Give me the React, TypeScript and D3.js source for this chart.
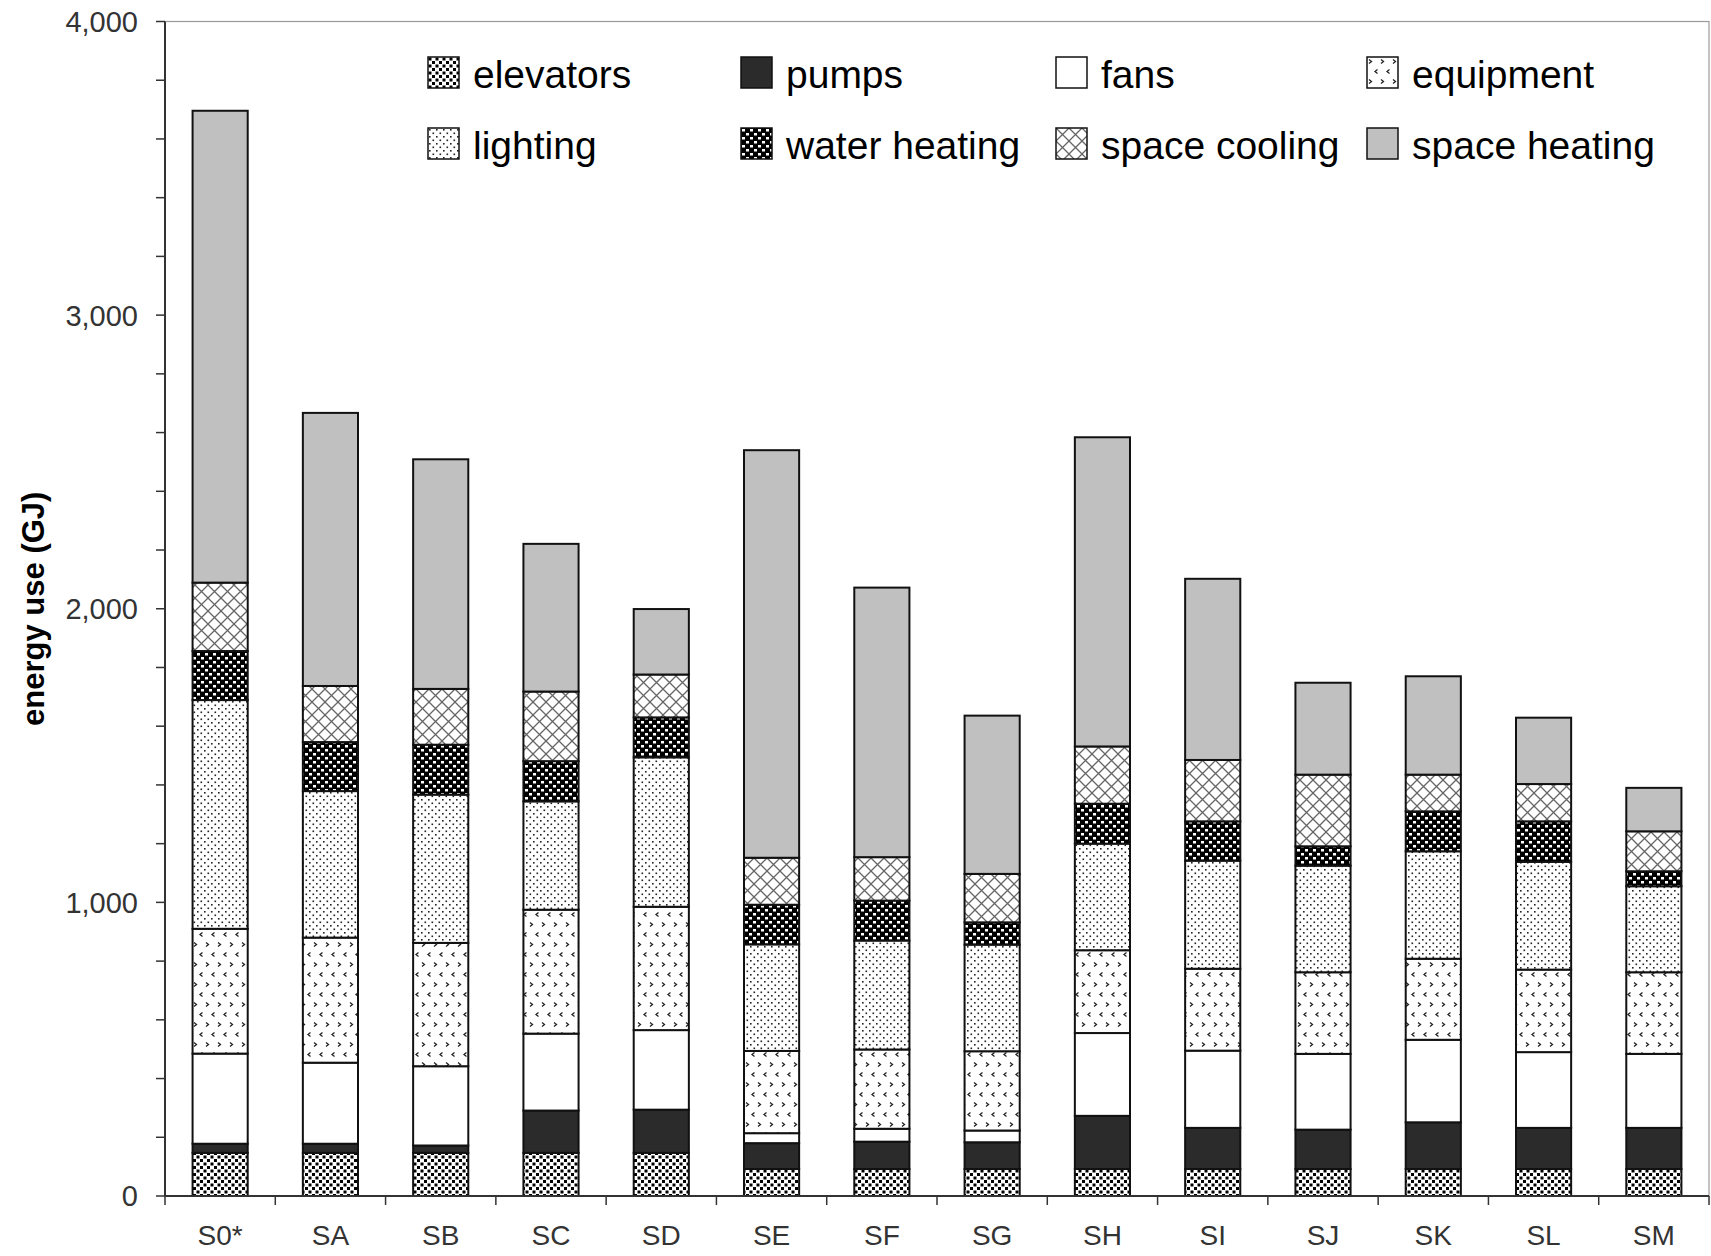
import React from "react";
import * as d3 from "d3";

const categories = ["S0*", "SA", "SB", "SC", "SD", "SE", "SF", "SG", "SH", "SI", "SJ", "SK", "SL", "SM"];
const elevators = [147, 147, 147, 147, 147, 92, 92, 92, 92, 92, 92, 92, 92, 92];
const pumps = [31, 31, 25, 144, 147, 88, 93, 91, 181, 140, 134, 159, 140, 140];
const fans = [307, 276, 270, 262, 271, 34, 44, 40, 282, 263, 258, 281, 258, 252];
const equipment = [425, 426, 420, 422, 420, 280, 270, 270, 282, 279, 278, 276, 281, 278];
const lighting = [779, 499, 505, 369, 509, 363, 371, 363, 363, 368, 363, 366, 367, 293];
const waterHeating = [167, 167, 170, 137, 136, 135, 136, 76, 136, 134, 66, 136, 138, 51];
const spaceCooling = [233, 191, 190, 237, 146, 160, 148, 165, 195, 209, 244, 125, 127, 136];
const spaceHeating = [1607, 930, 782, 503, 223, 1388, 918, 539, 1053, 617, 313, 335, 226, 148];
const yTicks = [0, 1000, 2000, 3000, 4000];

const seriesKeys = ["elevators", "pumps", "fans", "equipment", "lighting", "water heating", "space cooling", "space heating"];
const seriesValues = [elevators, pumps, fans, equipment, lighting, waterHeating, spaceCooling, spaceHeating];
const fills: Record<string, string> = {
  elevators: "url(#pElev)",
  pumps: "#2b2b2b",
  fans: "#ffffff",
  equipment: "url(#pEquip)",
  lighting: "url(#pLight)",
  "water heating": "url(#pWater)",
  "space cooling": "url(#pCool)",
  "space heating": "#c0c0c0",
};
const legendOrder = [
  ["elevators", "pumps", "fans", "equipment"],
  ["lighting", "water heating", "space cooling", "space heating"],
];

const W = 1711, H = 1256;
const left = 165, right = 1709, top = 21.5, bottom = 1196;
const font = '"Liberation Sans", Arial, sans-serif';

export default function App() {
  const rows = categories.map((c, i) => {
    const r: Record<string, any> = { cat: c };
    seriesKeys.forEach((k, j) => (r[k] = seriesValues[j][i]));
    return r;
  });
  const stacked = d3.stack().keys(seriesKeys)(rows as any);
  const x = d3.scaleBand().domain(categories).range([left, right]).paddingInner(0.5).paddingOuter(0.25);
  const y = d3.scaleLinear().domain([0, 4000]).range([bottom, top]);
  const minor = d3.range(0, 4001, 200);
  const step = x.step();
  const colX = [428, 741, 1056, 1367];
  const rowY = [57, 128];

  return (
    <svg width={W} height={H} style={{ position: "absolute", left: 0, top: 0, background: "#fff" }}>
      <defs>
        <pattern id="pElev" patternUnits="userSpaceOnUse" width="7" height="7">
          <rect width="7" height="7" fill="#fff" />
          <rect x="0.5" y="0.5" width="3" height="3" fill="#000" />
          <rect x="4" y="4" width="3" height="3" fill="#000" />
        </pattern>
        <pattern id="pWater" patternUnits="userSpaceOnUse" width="8" height="8">
          <rect width="8" height="8" fill="#000" />
          <rect x="1" y="1" width="3" height="2.5" fill="#fff" />
          <rect x="5" y="5" width="3" height="2.5" fill="#fff" />
        </pattern>
        <pattern id="pLight" patternUnits="userSpaceOnUse" width="7" height="7">
          <rect width="7" height="7" fill="#fff" />
          <rect x="1" y="1" width="1.6" height="1.6" fill="#222" />
          <rect x="4.5" y="4.5" width="1.6" height="1.6" fill="#222" />
        </pattern>
        <pattern id="pEquip" patternUnits="userSpaceOnUse" width="12" height="20">
          <rect width="12" height="20" fill="#fff" />
          <path d="M2,2.5 L4.5,4.5 L2,6.5" fill="none" stroke="#222" strokeWidth="1.3" />
          <path d="M10.5,12.5 L8,14.5 L10.5,16.5" fill="none" stroke="#222" strokeWidth="1.3" />
        </pattern>
        <pattern id="pCool" patternUnits="userSpaceOnUse" width="13" height="13">
          <rect width="13" height="13" fill="#fff" />
          <path d="M0,0 L13,13 M13,0 L0,13" stroke="#666" strokeWidth="1.3" />
        </pattern>
      </defs>

      {/* plot border */}
      <rect x={left} y={top} width={right - left} height={bottom - top} fill="none" stroke="#999" strokeWidth={1.2} />

      {/* bars */}
      {stacked.map((s) => (
        <g key={s.key}>
          {s.map((d, i) => (
            <rect
              key={i}
              x={x(categories[i])}
              y={y(d[1])}
              width={x.bandwidth()}
              height={y(d[0]) - y(d[1])}
              fill={fills[s.key]}
              stroke="#111"
              strokeWidth={2}
            />
          ))}
        </g>
      ))}

      {/* y axis */}
      <line x1={left} x2={left} y1={top} y2={bottom} stroke="#333" strokeWidth={2} />
      {minor.map((v) => (
        <line key={v} x1={left - 9} x2={left} y1={y(v)} y2={y(v)} stroke="#333" strokeWidth={1.5} />
      ))}
      {yTicks.map((v) => (
        <text key={v} x={138} y={y(v)} dy="0.36em" textAnchor="end" fontFamily={font} fontSize={29} fill="#333">
          {d3.format(",")(v)}
        </text>
      ))}
      <text
        transform={`translate(44,${(top + bottom) / 2}) rotate(-90)`}
        textAnchor="middle"
        fontFamily={font}
        fontSize={31}
        fontWeight="bold"
        fill="#000"
      >
        energy use (GJ)
      </text>

      {/* x axis */}
      <line x1={left} x2={right} y1={bottom} y2={bottom} stroke="#333" strokeWidth={2} />
      {d3.range(0, categories.length + 1).map((i) => (
        <line key={i} x1={left + i * step} x2={left + i * step} y1={bottom} y2={bottom + 9} stroke="#333" strokeWidth={1.5} />
      ))}
      {categories.map((c) => (
        <text key={c} x={(x(c) as number) + x.bandwidth() / 2} y={1245} textAnchor="middle" fontFamily={font} fontSize={28} fill="#333">
          {c}
        </text>
      ))}

      {/* legend */}
      {legendOrder.map((row, ri) =>
        row.map((k, ci) => (
          <g key={k} transform={`translate(${colX[ci]},${rowY[ri]})`}>
            <rect x={0} y={0} width={31} height={31} fill={fills[k]} stroke="#111" strokeWidth={1.5} />
            <text x={45} y={30.5} fontFamily={font} fontSize={39} fill="#000">
              {k}
            </text>
          </g>
        ))
      )}
    </svg>
  );
}
